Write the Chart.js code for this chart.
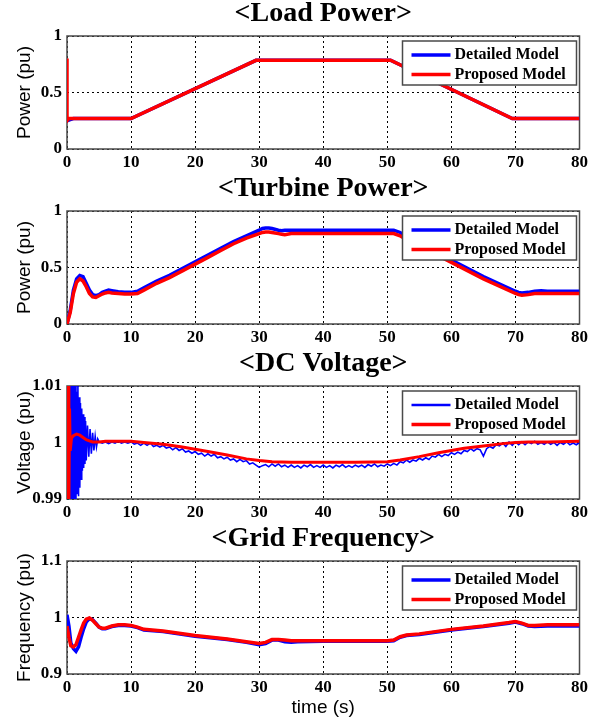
<!DOCTYPE html>
<html><head><meta charset="utf-8">
<script src="https://cdn.jsdelivr.net/npm/chart.js@4.4.1/dist/chart.umd.min.js"></script>
<style>
html,body{margin:0;padding:0;background:#fff;}
#wrap{position:relative;width:591px;height:722px;overflow:hidden;background:#fff;}
canvas{position:absolute;left:0;}
</style></head><body>
<div id="wrap">
<canvas id="c0" width="591" height="175" style="top:0px;width:591px;height:175px"></canvas>
<canvas id="c1" width="591" height="175" style="top:175px;width:591px;height:175px"></canvas>
<canvas id="c2" width="591" height="175" style="top:350px;width:591px;height:175px"></canvas>
<canvas id="c3" width="591" height="197" style="top:525px;width:591px;height:197px"></canvas>
</div>
<script>
// ---------- data ----------
const seriesNames = ['Detailed Model', 'Proposed Model'];
const panelTitles = ['<Load Power>', '<Turbine Power>', '<DC Voltage>', '<Grid Frequency>'];
const yTitles = ['Power (pu)', 'Power (pu)', 'Voltage (pu)', 'Frequency (pu)'];
const xTitle = 'time (s)';
const xTicks = [0, 10, 20, 30, 40, 50, 60, 70, 80];
const loadTicks = [0, 0.5, 1];
const loadTickLabels = ['0', '0.5', '1'];
const turbTicks = [0, 0.5, 1];
const turbTickLabels = ['0', '0.5', '1'];
const dcTicks = [0.99, 1, 1.01];
const dcTickLabels = ['0.99', '1', '1.01'];
const freqTicks = [0.9, 1, 1.1];
const freqTickLabels = ['0.9', '1', '1.1'];

// Load power
const loadTimeD = [0, 0.5, 1, 10, 29.5, 50.5, 69.5, 80];
const loadDetailed = [0.25, 0.26, 0.27, 0.27, 0.785, 0.785, 0.27, 0.27];
const loadTimeP = [0, 0, 0.3, 10, 29.5, 50.5, 69.5, 80];
const loadProposed = [0.8, 0.25, 0.27, 0.27, 0.785, 0.785, 0.27, 0.27];

// Turbine power
const turbTime = [0, 0.5, 1, 1.5, 2, 2.5, 3, 3.5, 4, 4.5, 5, 5.5, 6, 6.5, 7, 8, 9, 10, 11, 12, 14, 16, 18, 20, 22, 24, 26, 28, 30, 30.5, 31, 31.5, 32, 33, 33.5, 34, 35, 40, 45, 50, 51, 52, 53, 55, 60, 65, 70, 70.5, 71, 72, 73, 74, 75, 80];
const turbDetailed = [0, 0.12, 0.30, 0.40, 0.43, 0.42, 0.36, 0.30, 0.26, 0.25, 0.26, 0.28, 0.29, 0.30, 0.295, 0.285, 0.28, 0.28, 0.29, 0.32, 0.38, 0.43, 0.49, 0.55, 0.61, 0.67, 0.73, 0.78, 0.83, 0.845, 0.85, 0.85, 0.845, 0.83, 0.825, 0.83, 0.83, 0.83, 0.83, 0.83, 0.83, 0.81, 0.77, 0.71, 0.565, 0.42, 0.29, 0.28, 0.275, 0.28, 0.29, 0.295, 0.29, 0.29];
const turbProposed = [0, 0.10, 0.27, 0.37, 0.40, 0.38, 0.33, 0.27, 0.24, 0.235, 0.25, 0.265, 0.275, 0.28, 0.275, 0.27, 0.265, 0.265, 0.27, 0.30, 0.36, 0.41, 0.47, 0.53, 0.59, 0.65, 0.71, 0.76, 0.80, 0.81, 0.815, 0.815, 0.81, 0.80, 0.795, 0.79, 0.80, 0.80, 0.80, 0.80, 0.80, 0.78, 0.745, 0.69, 0.545, 0.40, 0.27, 0.26, 0.255, 0.26, 0.27, 0.27, 0.27, 0.27];

// DC voltage
const dcTimeD = [0, 0.1, 0.2, 0.3, 0.4, 0.5, 0.6, 0.7, 0.8, 0.9, 1.0, 1.1, 1.2, 1.3, 1.4, 1.5, 1.6, 1.7, 1.8, 1.9, 2.0, 2.1, 2.2, 2.3, 2.4, 2.5, 2.6, 2.7, 2.8, 2.9, 3.0, 3.2, 3.4, 3.6, 3.8, 4.0, 4.2, 4.4, 4.6, 4.8,
  5, 5.5, 6, 6.5, 7, 7.5, 8, 8.5, 9, 9.5, 10, 10.5, 11, 11.5, 12, 12.5, 13, 13.5, 14, 14.5, 15, 15.5, 16, 16.5, 17, 17.5, 18, 18.5, 19, 19.5,
  20, 20.5, 21, 21.5, 22, 22.5, 23, 23.5, 24, 24.5, 25, 25.5, 26, 26.5, 27, 27.5, 28, 28.5, 29, 29.5, 30, 30.5, 31, 31.5, 32, 32.5, 33, 33.5, 34, 34.5,
  35, 35.5, 36, 36.5, 37, 37.5, 38, 38.5, 39, 39.5, 40, 40.5, 41, 41.5, 42, 42.5, 43, 43.5, 44, 44.5, 45, 45.5, 46, 46.5, 47, 47.5, 48, 48.5, 49, 49.5,
  50, 50.5, 51, 51.5, 52, 52.5, 53, 53.5, 54, 54.5, 55, 55.5, 56, 56.5, 57, 57.5, 58, 58.5, 59, 59.5, 60, 60.5, 61, 61.5, 62, 62.5, 63, 63.5, 64, 64.5,
  65, 65.5, 66, 66.5, 67, 67.5, 68, 68.5, 69, 69.5, 70, 70.5, 71, 71.5, 72, 72.5, 73, 73.5, 74, 74.5, 75, 75.5, 76, 76.5, 77, 77.5, 78, 78.5, 79, 79.5, 80];
const dcDetailed = [1.000, 1.012, 0.988, 1.013, 0.987, 1.012, 0.988, 1.011, 0.989, 1.012, 0.988, 1.010, 0.989, 1.011, 0.990, 1.009, 0.991, 1.0105, 0.9905, 1.008, 0.992, 1.007, 0.9935, 1.006, 0.995, 1.005, 0.9955, 1.0045, 0.9962, 1.0038, 0.9968, 1.003, 0.9975, 1.0024, 0.998, 1.0017, 0.9986, 1.0011, 0.9992, 1.0006,
  1.0001, 0.9999, 1.0001, 0.9998, 1.0001, 0.9999, 1.0002, 0.9999, 1.0001, 0.9999, 1.0001, 0.9997, 0.9999, 0.9995, 0.9999, 0.9995, 0.9999, 0.9993, 0.9995, 0.9992, 0.9995, 0.9990, 0.9992, 0.9987, 0.9991, 0.9986, 0.9989, 0.9983, 0.9985, 0.9981,
  0.9984, 0.9979, 0.9981, 0.9976, 0.9980, 0.9976, 0.9979, 0.9973, 0.9975, 0.9971, 0.9974, 0.9969, 0.9971, 0.9966, 0.9970, 0.9966, 0.9968, 0.9962, 0.9964, 0.9960, 0.9956, 0.9959, 0.9961, 0.9957, 0.9962, 0.9958, 0.9962, 0.9957, 0.9960, 0.9956,
  0.9960, 0.9956, 0.9959, 0.9955, 0.9960, 0.9957, 0.9961, 0.9956, 0.9959, 0.9956, 0.9960, 0.9956, 0.9959, 0.9955, 0.9960, 0.9957, 0.9961, 0.9956, 0.9959, 0.9956, 0.9960, 0.9957, 0.9960, 0.9956, 0.9961, 0.9958, 0.9962, 0.9957, 0.9960, 0.9958,
  0.9962, 0.9959, 0.9963, 0.9960, 0.9966, 0.9964, 0.9969, 0.9965, 0.9969, 0.9967, 0.9972, 0.9969, 0.9973, 0.9970, 0.9976, 0.9974, 0.9979, 0.9975, 0.9979, 0.9977, 0.9982, 0.9979, 0.9983, 0.9980, 0.9986, 0.9984, 0.9989, 0.9985, 0.9989, 0.9987,
  0.9976, 0.9989, 0.9993, 0.9990, 0.9996, 0.9994, 0.9999, 0.9993, 1.0001, 0.9995, 1.0001, 0.9996, 1.0001, 0.9996, 1.0001, 0.9998, 1.0002, 0.9997, 1.0000, 0.9997, 1.0001, 0.9997, 1.0000, 0.9995, 1.0000, 0.9997, 1.0001, 0.9996, 0.9999, 0.9996, 1.0000];
const dcTimeP = [0, 0.1, 0.2, 0.3, 0.4, 0.5, 0.7, 1, 1.5, 2, 2.5, 3, 3.5, 4, 5, 6, 8, 10, 12, 15, 18, 20, 22, 25, 28, 30, 32, 35, 40, 45, 50, 52, 55, 58, 60, 62, 65, 68, 70, 72, 75, 80];
const dcProposed = [1.012, 0.988, 1.012, 0.990, 1.006, 0.9985, 1.0008, 1.0012, 1.0015, 1.0013, 1.0009, 1.0005, 1.0003, 1.0001, 1.0001, 1.0002, 1.0002, 1.0002, 1.0000, 0.9997, 0.9992, 0.9988, 0.9984, 0.9978, 0.9971, 0.9968, 0.9966, 0.9965, 0.9965, 0.9965, 0.9966, 0.9969, 0.9975, 0.9982, 0.9986, 0.9990, 0.9994, 0.9998, 1.0000, 1.0001, 1.0001, 1.0002];

// Grid frequency
const freqTime = [0, 0.3, 0.6, 1, 1.4, 1.8, 2.2, 2.6, 3, 3.5, 4, 4.5, 5, 5.5, 6, 7, 8, 9, 10, 11, 12, 15, 20, 25, 28, 30, 31, 32, 33, 34, 35, 36, 40, 45, 50, 51, 52, 53, 55, 60, 65, 69, 70, 71, 72, 73, 75, 80];
const freqDetailed = [1.005, 0.985, 0.955, 0.945, 0.940, 0.948, 0.965, 0.980, 0.992, 0.998, 0.996, 0.990, 0.983, 0.980, 0.980, 0.984, 0.986, 0.986, 0.985, 0.982, 0.978, 0.975, 0.967, 0.961, 0.956, 0.952, 0.954, 0.960, 0.960, 0.957, 0.956, 0.957, 0.958, 0.958, 0.958, 0.959, 0.965, 0.968, 0.970, 0.978, 0.984, 0.990, 0.992, 0.989, 0.985, 0.984, 0.985, 0.985];
const freqProposed = [0.985, 0.965, 0.950, 0.948, 0.952, 0.965, 0.978, 0.990, 0.997, 0.999, 0.995, 0.989, 0.983, 0.981, 0.981, 0.985, 0.987, 0.987, 0.986, 0.983, 0.979, 0.976, 0.968, 0.962, 0.957, 0.954, 0.956, 0.961, 0.961, 0.960, 0.959, 0.959, 0.959, 0.959, 0.959, 0.960, 0.966, 0.969, 0.971, 0.979, 0.985, 0.991, 0.993, 0.990, 0.986, 0.986, 0.987, 0.987];

// ---------- drawing ----------
const BLUE = '#0000ff', RED = '#ff0000', FRAME = '#4a4a4a';
const pts = (t, v) => t.map((x, i) => ({x: x, y: v[i]}));

const decor = {
  id: 'decor',
  beforeDatasetsDraw(chart) {
    const {ctx, chartArea: a} = chart;
    ctx.save();
    ctx.strokeStyle = FRAME; ctx.lineWidth = 1.5;
    ctx.strokeRect(a.left, a.top, a.right - a.left, a.bottom - a.top);
    // y-axis title (no width limit)
    const o = chart.options.plugins.decor;
    ctx.fillStyle = '#000';
    ctx.font = '19px "Liberation Sans"';
    ctx.textAlign = 'center'; ctx.textBaseline = 'middle';
    ctx.translate(25, (a.top + a.bottom) / 2 + (o.yTitleShift || 0));
    ctx.rotate(-Math.PI / 2);
    ctx.fillText(o.yTitle, 0, 0);
    ctx.restore();
  },
  afterDraw(chart) {
    const {ctx, chartArea: a} = chart;
    const x0 = a.right - 177, y0 = a.top + 5, w = 174, h = 44;
    ctx.save();
    ctx.fillStyle = '#fff'; ctx.fillRect(x0, y0, w, h);
    ctx.strokeStyle = FRAME; ctx.lineWidth = 1.5; ctx.strokeRect(x0, y0, w, h);
    ctx.font = 'bold 16px "Liberation Serif"';
    ctx.textBaseline = 'middle'; ctx.textAlign = 'left'; ctx.fillStyle = '#000';
    const ds = chart.data.datasets;
    [ds[0], ds[1]].forEach((d, i) => {
      const y = y0 + 14 + i * 19.5;
      ctx.strokeStyle = d.borderColor; ctx.lineWidth = d.legendWidth;
      ctx.beginPath(); ctx.moveTo(x0 + 9, y); ctx.lineTo(x0 + 48, y); ctx.stroke();
      ctx.fillText(d.label, x0 + 52, y);
    });
    ctx.restore();
  }
};

function makePanel(id, o) {
  const tickFont = {family: 'Liberation Serif', weight: 'bold', size: 17};
  new Chart(document.getElementById(id), {
    type: 'line',
    data: {
      datasets: [
        {label: seriesNames[0], data: pts(o.tD, o.vD), borderColor: BLUE, borderWidth: o.wD, legendWidth: o.lwD, order: 2, pointRadius: 0, tension: 0, fill: false},
        {label: seriesNames[1], data: pts(o.tP, o.vP), borderColor: RED, borderWidth: o.wP, legendWidth: o.lwP, order: 1, pointRadius: 0, tension: 0, fill: false}
      ]
    },
    options: {
      responsive: false, animation: false, devicePixelRatio: 1,
      layout: {padding: {left: 0, right: 8, top: 0, bottom: 0}},
      plugins: {
        legend: {display: false}, tooltip: {enabled: false},
        title: {display: true, text: o.title, fullSize: false, color: '#000',
          font: {family: 'Liberation Serif', size: 28, weight: 'bold', lineHeight: 1}, padding: {top: 0, bottom: 8}},
        decor: {yTitle: o.yTitle, yTitleShift: o.yTitleShift}
      },
      scales: {
        x: {
          type: 'linear', min: 0, max: 80,
          afterBuildTicks: s => { s.ticks = xTicks.map(v => ({value: v})); },
          afterFit: s => { s.height = o.last ? 48 : 26; },
          grid: {color: '#000', lineWidth: 1, drawTicks: false},
          border: {display: false, dash: [2, 3]},
          ticks: {color: '#000', font: tickFont, padding: 3, maxRotation: 0, autoSkip: false, callback: v => String(v)},
          title: o.last ? {display: true, text: xTitle, color: '#000', font: {family: 'Liberation Sans', size: 19}, padding: {top: 0, bottom: 3}} : {display: false}
        },
        y: {
          type: 'linear', min: o.yTicks[0], max: o.yTicks[o.yTicks.length - 1],
          afterBuildTicks: s => { s.ticks = o.yTicks.map(v => ({value: v})); },
          afterFit: s => { s.width = 67; },
          grid: {color: '#000', lineWidth: 1, drawTicks: false},
          border: {display: false, dash: [2, 3]},
          ticks: {color: '#000', font: tickFont, padding: 5, callback: (v, i) => o.yLabels[i]}
        }
      }
    },
    plugins: [decor]
  });
}

makePanel('c0', {title: panelTitles[0], yTitle: yTitles[0], tD: loadTimeD, vD: loadDetailed, tP: loadTimeP, vP: loadProposed, yTicks: loadTicks, yLabels: loadTickLabels, wD: 3.5, wP: 3.5, lwD: 3.5, lwP: 3.5});
makePanel('c1', {title: panelTitles[1], yTitle: yTitles[1], tD: turbTime, vD: turbDetailed, tP: turbTime, vP: turbProposed, yTicks: turbTicks, yLabels: turbTickLabels, wD: 3.5, wP: 3.5, lwD: 3.5, lwP: 3.5});
makePanel('c2', {title: panelTitles[2], yTitle: yTitles[2], tD: dcTimeD, vD: dcDetailed, tP: dcTimeP, vP: dcProposed, yTicks: dcTicks, yLabels: dcTickLabels, wD: 1.6, wP: 3, lwD: 2.5, lwP: 3.5});
makePanel('c3', {title: panelTitles[3], yTitle: yTitles[3], tD: freqTime, vD: freqDetailed, tP: freqTime, vP: freqProposed, yTicks: freqTicks, yLabels: freqTickLabels, wD: 3.5, wP: 3.5, lwD: 3.5, lwP: 3.5, last: true, yTitleShift: 0});
</script>
</body></html>
